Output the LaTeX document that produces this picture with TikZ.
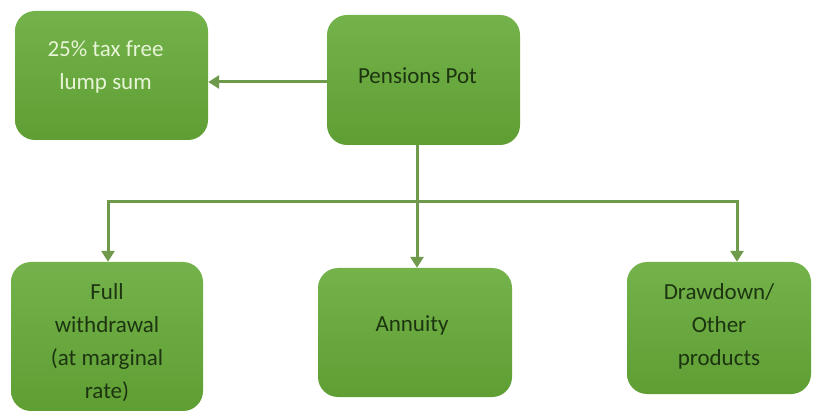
\documentclass[tikz,border=0pt]{standalone}
\usepackage{fontspec}
\setmainfont{Carlito}
\usetikzlibrary{arrows.meta}
\definecolor{boxtop}{HTML}{74B34B}
\definecolor{boxbot}{HTML}{5E9E33}
\definecolor{lineg}{HTML}{6F9A4C}
\definecolor{darktxt}{HTML}{1C3410}
\definecolor{lighttxt}{HTML}{E8F4D8}
\tikzset{
  gbox/.style={rounded corners=20pt, top color=boxtop, bottom color=boxbot, draw=none,
    inner sep=0pt},
  txt/.style={align=center, text=darktxt, inner sep=0pt,
    font=\fontsize{23}{33}\selectfont},
  conn/.style={draw=lineg, line width=3pt},
  arr/.style={conn, -{Triangle[width=13pt,length=11pt]}},
}
\begin{document}
\begin{tikzpicture}[x=1pt,y=-1pt]
\useasboundingbox (0,0) rectangle (813,411);
\node[gbox, minimum width=193pt, minimum height=129pt,
  label={[txt, text=lighttxt, yshift=9pt, xshift=-6pt]center:{25\% tax free\\lump sum}}] (lump) at (111.5,75.5) {};
\node[gbox, minimum width=193pt, minimum height=130pt,
  label={[txt, yshift=4pt, xshift=-6pt]center:{Pensions Pot}}] (pot) at (423.5,80) {};
\node[gbox, minimum width=192pt, minimum height=149pt,
  label={[txt, yshift=-6pt]center:{Full\\withdrawal\\(at marginal\\rate)}}] (full) at (107,336.5) {};
\node[gbox, minimum width=194pt, minimum height=129pt,
  label={[txt, yshift=7pt, xshift=-3pt]center:{Annuity}}] (ann) at (415,332.5) {};
\node[gbox, minimum width=184pt, minimum height=132pt,
  label={[txt, yshift=2pt]center:{Drawdown/\\Other\\products}}] (dd) at (719,328) {};
\coordinate (j) at (417,202);
\coordinate (jl) at (108,202);
\coordinate (jr) at (737,202);
\coordinate (ay) at (0,82);
\draw[arr] (pot.west |- ay) -- (lump.east |- ay);
\draw[arr] (pot.south -| j) -- (j |- ann.north);
\draw[conn, line join=miter] (jl) ++(0,11) -- (jl) -- (jr) -- ++(0,11);
\draw[arr] (jl) -- (jl |- full.north);
\draw[arr] (jr) -- (jr |- dd.north);
\end{tikzpicture}
\end{document}
